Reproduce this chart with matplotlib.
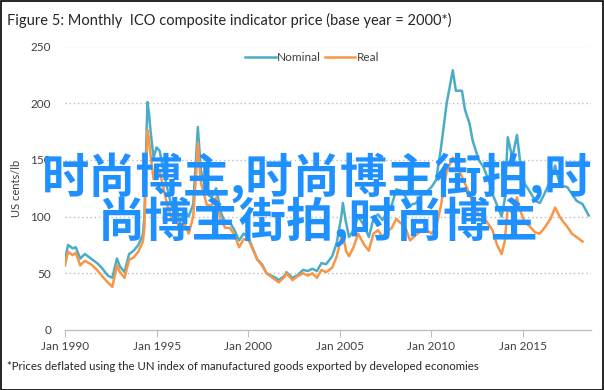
import matplotlib
matplotlib.use("Agg")
import matplotlib.pyplot as plt
import numpy as np

# ---------------- data ----------------
nominal_dates = [
    "1990-01", "1990-03", "1990-06", "1990-08", "1990-11", "1991-02", "1991-06", "1991-10",
    "1992-01", "1992-05", "1992-08", "1992-11", "1993-01", "1993-04", "1993-07", "1993-10",
    "1994-01", "1994-04", "1994-05", "1994-06", "1994-07", "1994-08", "1994-09", "1994-11",
    "1995-01", "1995-03", "1995-05", "1995-08", "1995-11", "1996-02", "1996-04", "1996-07",
    "1996-10", "1997-01", "1997-03", "1997-04", "1997-06", "1997-08", "1997-10", "1998-01",
    "1998-04", "1998-07", "1998-10", "1999-01", "1999-04", "1999-07", "1999-10", "2000-01",
    "2000-04", "2000-07", "2000-10", "2001-01", "2001-04", "2001-07", "2001-09", "2002-01",
    "2002-02", "2002-06", "2002-09", "2003-01", "2003-04", "2003-07", "2003-10", "2004-01",
    "2004-04", "2004-08", "2004-11", "2005-02", "2005-03", "2005-05", "2005-07", "2005-10",
    "2006-01", "2006-05", "2006-08", "2006-11", "2007-02", "2007-05", "2007-08", "2007-11",
    "2008-02", "2008-05", "2008-07", "2008-11", "2009-03", "2009-07", "2009-10", "2010-01",
    "2010-04", "2010-07", "2010-11", "2011-03", "2011-05", "2011-09", "2011-11", "2012-02",
    "2012-04", "2012-08", "2012-11", "2013-03", "2013-05", "2013-08", "2013-11", "2014-01",
    "2014-03", "2014-06", "2014-09", "2014-11", "2015-02", "2015-05", "2015-09", "2015-12",
    "2016-03", "2016-07", "2016-10", "2017-01", "2017-03", "2017-06", "2017-09", "2017-12",
    "2018-04", "2018-08",
]
nominal_values = [
    62, 75, 72, 73, 63, 67, 63, 59,
    55, 48, 46, 63, 56, 51, 67, 70,
    75, 84, 100, 152, 201, 191, 176, 152,
    161, 158, 144, 125, 108, 110, 94, 106,
    100, 111, 155, 179, 141, 130, 120, 117,
    125, 104, 94, 95, 88, 79, 85, 82,
    72, 62, 58, 50, 48, 46, 44, 48,
    51, 46, 48, 53, 52, 54, 52, 59,
    58, 65, 77, 100, 112, 95, 82, 88,
    100, 92, 82, 98, 102, 97, 104, 110,
    124, 123, 120, 110, 112, 120, 122, 126,
    132, 158, 200, 229, 211, 211, 194, 182,
    167, 150, 144, 130, 120, 110, 100, 115,
    170, 152, 172, 150, 129, 123, 114, 112,
    120, 132, 145, 129, 127, 126, 120, 114,
    111, 101,
]

real_dates = nominal_dates[:-1]
real_values = [
    57, 69, 66, 68, 57, 61, 58, 53,
    48, 42, 38, 57, 51, 46, 62, 64,
    69, 78, 90, 135, 176, 168, 155, 133,
    144, 140, 128, 110, 98, 100, 86, 95,
    85, 100, 140, 165, 130, 120, 110, 110,
    117, 97, 90, 90, 84, 73, 80, 80,
    71, 62, 57, 50, 47, 44, 42, 47,
    50, 44, 47, 50, 48, 50, 46, 53,
    51, 55, 65, 82, 85, 70, 65, 73,
    85, 75, 70, 85, 88, 82, 87, 90,
    98, 94, 94, 79, 84, 88, 88, 85,
    90, 108, 140, 152, 147, 135, 129, 120,
    111, 102, 100, 92, 88, 75, 67, 78,
    108, 103, 117, 106, 95, 92, 86, 85,
    90, 98, 108, 100, 96, 91, 85, 82,
    78,
]

x_tick_years = [1990, 1995, 2000, 2005, 2010, 2015]
x_tick_labels = ["Jan 1990", "Jan 1995", "Jan 2000", "Jan 2005", "Jan 2010", "Jan 2015"]
y_ticks = [0, 50, 100, 150, 200, 250]

title = "Figure 5: Monthly  ICO composite indicator price (base year = 2000*)"
footnote = "*Prices deflated using the UN index of manufactured goods exported by developed economies"
ylabel = "US cents/lb"
watermark_1 = "时尚博主,时尚博主街拍,时"
watermark_2 = "尚博主街拍,时尚博主"


def to_year(ds):
    return np.array([int(d[:4]) + (int(d[5:7]) - 1) / 12.0 for d in ds])


# ---------------- figure ----------------
W, H = 604, 390
fig = plt.figure(figsize=(W / 100, H / 100), dpi=100)
fig.patch.set_facecolor("white")

font = "Lato"
ax = fig.add_axes([65 / W, 1 - 330 / H, (591 - 65) / W, (330 - 46.5) / H])
ax.set_facecolor("white")

nom_col = "#4BACC6"
real_col = "#F79646"
ax.plot(to_year(nominal_dates), nominal_values, color=nom_col, lw=1.8, label="Nominal",
        solid_joinstyle="round")
ax.plot(to_year(real_dates), real_values, color=real_col, lw=1.8, label="Real",
        solid_joinstyle="round")

ax.set_xlim(1990, 2018.71)
ax.set_ylim(0, 250)
ax.set_yticks(y_ticks)
ax.set_yticklabels([str(v) for v in y_ticks], fontsize=8.5, color="#404040", family=font)
ax.set_xticks(x_tick_years)
ax.set_xticklabels(x_tick_labels, fontsize=8.5, color="#404040", family=font)
ax.tick_params(axis="y", length=0, pad=10)
ax.tick_params(axis="x", length=5, color="#BFBFBF", pad=3)
for y in y_ticks[1:]:
    ax.axhline(y, color="#BFBFBF", lw=1.0, ls=(0, (1, 2)), zorder=0)
for s in ["top", "right", "left"]:
    ax.spines[s].set_visible(False)
ax.spines["bottom"].set_color("#BFBFBF")
ax.spines["bottom"].set_linewidth(1.0)

ax.set_ylabel(ylabel, fontsize=8, color="#404040", family=font, labelpad=6)

leg = ax.legend(loc="upper center", bbox_to_anchor=(0.47, 1.0), ncol=2, frameon=False,
                prop={"family": font, "size": 8.5}, handlelength=2.6, handletextpad=0.1,
                columnspacing=0.3, borderaxespad=0.1)
for t in leg.get_texts():
    t.set_color("#404040")

fig.text(7 / W, 1 - 20 / H, title, fontsize=10.5, family=font, color="#262626",
         va="center", ha="left")
fig.text(7 / W, 1 - 367 / H, footnote, fontsize=8.2, family=font, color="#262626",
         va="center", ha="left")

wm_kw = dict(fontsize=34, color="#1E90FF", ha="center", va="center", weight="bold",
             family=["Noto Sans CJK SC", "DejaVu Sans"], zorder=10)
fig.text(317 / W, 1 - 178 / H, watermark_1, **wm_kw)
fig.text(317 / W, 1 - 222 / H, watermark_2, **wm_kw)

# border round the figure
fig.add_artist(plt.Rectangle((0.5 / W, 0.5 / H), 1 - 1.5 / W, 1 - 1.5 / H,
                             transform=fig.transFigure, fill=False, edgecolor="black", lw=1.2))

fig.savefig("out.png", dpi=100, facecolor="white")
